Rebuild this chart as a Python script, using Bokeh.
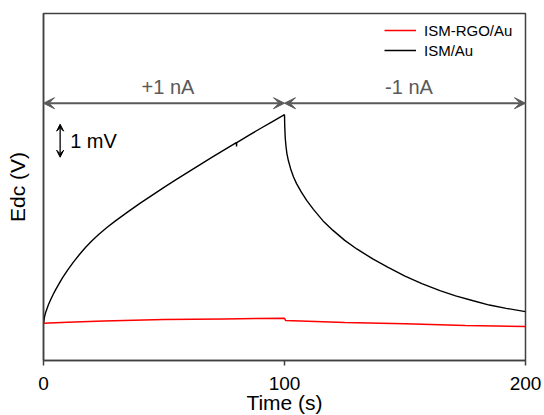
from bokeh.plotting import figure
from bokeh.models import Arrow, VeeHead, Label, Legend, LegendItem, FixedTicker, Range1d
from bokeh.embed import file_html
from bokeh.resources import INLINE

# ---------------- data (time in s, potential relative, in mV) ----------------
t_ism = [0, 0.5, 1, 2, 3, 4, 5, 6, 7, 8, 10, 12.4, 15, 17.5, 20, 23, 26.3, 30, 35,
         40, 45, 50, 55, 60, 65, 70, 75, 80.0, 80.1, 80.2, 85, 90, 95, 100.0,
         100.1, 100.3, 100.6, 101.0, 101.6, 102.5, 103.7, 105, 107, 109.2, 112,
         116, 120, 125, 130, 136.8, 143, 150, 157, 164.5, 171, 178.3, 185, 192, 200]
v_ism = [1.12, 1.35, 1.48, 1.68, 1.85, 2.00, 2.14, 2.27, 2.40, 2.52, 2.74, 2.98, 3.22,
         3.43, 3.62, 3.824, 4.029, 4.24, 4.505, 4.76, 5.005, 5.245, 5.48, 5.71, 5.935, 6.16,
         6.38, 6.60, 6.49, 6.60, 6.815, 7.03, 7.24, 7.45,
         7.10, 6.75, 6.50, 6.27, 6.06, 5.82, 5.57, 5.36, 5.10, 4.85, 4.58,
         4.23, 3.95, 3.64, 3.38, 3.07, 2.82, 2.56, 2.33, 2.12, 1.96, 1.81, 1.68, 1.58, 1.48]

t_rgo = [0, 5, 10, 25, 50, 75, 100.0, 100.5, 125, 150, 175, 200]
v_rgo = [1.13, 1.145, 1.16, 1.20, 1.24, 1.26, 1.28, 1.21, 1.15, 1.11, 1.06, 1.03]

series_names = ["ISM-RGO/Au", "ISM/Au"]
x_ticks = [0, 100, 200]
seg_start = [0, 100]
seg_end = [100, 200]
seg_labels = ["+1 nA", "-1 nA"]
scale_bar_mv = 1.0
scale_bar_label = "1 mV"

FONT = "Liberation Sans"
FRAME = "#404040"
GREY = "#595959"

p = figure(frame_width=482, frame_height=347, output_backend="svg", toolbar_location=None,
           x_range=Range1d(0, 200), y_range=Range1d(0, 347 / 33.0),
           min_border_left=43, min_border_top=13, min_border_right=19, min_border_bottom=0)
p.background_fill_color = "white"
p.border_fill_color = "white"
p.grid.visible = False
p.outline_line_color = FRAME
p.outline_line_width = 1.5

r_black = p.line(t_ism, v_ism, line_color="black", line_width=1.4)
r_red = p.line(t_rgo, v_rgo, line_color="#ff0000", line_width=1.5)

# x axis
p.xaxis.ticker = FixedTicker(ticks=x_ticks, minor_ticks=[])
p.xaxis.major_tick_in = 0
p.xaxis.major_tick_out = 5
p.xaxis.minor_tick_line_color = None
p.xaxis.major_tick_line_color = FRAME
p.xaxis.major_tick_line_width = 1.5
p.xaxis.axis_line_color = FRAME
p.xaxis.axis_line_width = 1.5
p.xaxis.major_label_text_font = FONT
p.xaxis.major_label_text_font_size = "19px"
p.xaxis.major_label_text_color = "black"
p.xaxis.major_label_standoff = 11
p.xaxis.axis_label = "Time (s)"
p.xaxis.axis_label_text_font = FONT
p.xaxis.axis_label_text_font_size = "21px"
p.xaxis.axis_label_text_font_style = "normal"
p.xaxis.axis_label_text_color = "black"
p.xaxis.axis_label_standoff = -2

# y axis (no ticks)
p.yaxis.ticker = FixedTicker(ticks=[], minor_ticks=[])
p.yaxis.major_tick_out = 0
p.yaxis.major_tick_in = 0
p.yaxis.axis_line_color = FRAME
p.yaxis.axis_line_width = 1.5
p.yaxis.axis_label = "Edc (V)"
p.yaxis.axis_label_text_font = FONT
p.yaxis.axis_label_text_font_size = "21px"
p.yaxis.axis_label_text_font_style = "normal"
p.yaxis.axis_label_text_color = "black"
p.yaxis.axis_label_standoff = 15

# current-step arrows and labels
arrow_level = (360 - 102.7) / 33.0
text_level = (360 - 86.7) / 33.0
for s, e, lab in zip(seg_start, seg_end, seg_labels):
    p.add_layout(Arrow(start=VeeHead(size=11, fill_color=GREY, line_color=GREY, line_width=1),
                       end=VeeHead(size=11, fill_color=GREY, line_color=GREY, line_width=1),
                       x_start=s, y_start=arrow_level, x_end=e, y_end=arrow_level,
                       line_color=GREY, line_width=2))
    p.add_layout(Label(x=(s + e) / 2, y=text_level, text=lab, x_offset=4,
                       text_align="center", text_baseline="middle",
                       text_font=FONT, text_font_size="20px", text_color=GREY))

# scale bar
sb_x = 6.9
sb_bottom = (360 - 156.7) / 33.0
p.add_layout(Arrow(start=VeeHead(size=7, fill_color="black", line_color="black", line_width=1),
                   end=VeeHead(size=7, fill_color="black", line_color="black", line_width=1),
                   x_start=sb_x, y_start=sb_bottom, x_end=sb_x, y_end=sb_bottom + scale_bar_mv,
                   line_color="black", line_width=1.3))
p.add_layout(Label(x=sb_x, y=sb_bottom + scale_bar_mv / 2, text=scale_bar_label, x_offset=10,
                   text_align="left", text_baseline="middle",
                   text_font=FONT, text_font_size="20px", text_color="black"))

legend = Legend(items=[LegendItem(label=series_names[0], renderers=[r_red]),
                       LegendItem(label=series_names[1], renderers=[r_black])],
                location=(341, 300), orientation="vertical",
                glyph_width=32, glyph_height=20, label_height=20, label_standoff=8,
                spacing=0, padding=0, margin=0,
                label_text_font=FONT, label_text_font_size="15px", label_text_color="black",
                border_line_alpha=0, background_fill_alpha=0)
p.add_layout(legend)

open("out.html", "w").write(file_html(p, INLINE))
